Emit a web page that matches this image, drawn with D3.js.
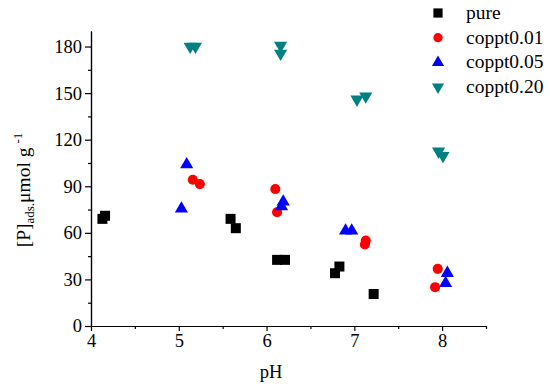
<!DOCTYPE html>
<html lang="en">
<head>
  <meta charset="UTF-8">
  <title>Adsorbed P vs pH</title>
  <style>
    body { margin: 0; background: #fff; }
    svg text { font-family: "Liberation Serif", "Times New Roman", serif; fill: #000; }
    .axis path, .axis line { stroke: #000; stroke-width: 1.2; fill: none; }
    .axis text { font-size: 18.5px; font-family: "Liberation Serif", serif; }
  </style>
</head>
<body>
  <div id="chart"></div>
  <script src="https://d3js.org/d3.v7.min.js"></script>
  <script>
    // Data
    const pureX = [4.13, 4.16, 5.59, 5.65, 6.12, 6.21, 6.78, 6.83, 7.22];
    const pureY = [69, 71, 69, 63, 42.6, 42.6, 34, 38.3, 20.6];
    const c001X = [5.16, 5.24, 6.10, 6.12, 7.13, 7.12, 7.95, 7.92];
    const c001Y = [94.2, 91.4, 88.2, 73.3, 55, 52.5, 36.8, 25];
    const c005X = [5.03, 5.09, 6.17, 6.19, 6.90, 6.97, 8.04, 8.06];
    const c005Y = [75.5, 104, 77, 80, 61.3, 61.3, 27.5, 34];
    const c020X = [5.13, 5.19, 6.16, 6.16, 7.03, 7.13, 7.96, 8.01];
    const c020Y = [180, 180, 180.6, 175.5, 146, 148, 112.5, 109.7];

    const seriesNames = ["pure", "coppt0.01", "coppt0.05", "coppt0.20"];
    const xTicks = [4, 5, 6, 7, 8];
    const yTicks = [0, 30, 60, 90, 120, 150, 180];

    const series = [
      { name: seriesNames[0], xs: pureX, ys: pureY, shape: d3.symbolSquare, size: 100, rot: 0, color: "#000000" },
      { name: seriesNames[1], xs: c001X, ys: c001Y, shape: d3.symbolCircle, size: 80, rot: 0, color: "#ff0000" },
      { name: seriesNames[2], xs: c005X, ys: c005Y, shape: d3.symbolTriangle, size: 75, rot: 0, color: "#0000ff" },
      { name: seriesNames[3], xs: c020X, ys: c020Y, shape: d3.symbolTriangle, size: 75, rot: 180, color: "#008080" }
    ];

    const W = 550, H = 384;
    const margin = { left: 91, right: 64, top: 31, bottom: 58 };

    const svg = d3.select("#chart").append("svg")
      .attr("width", W).attr("height", H);

    const x = d3.scaleLinear().domain([4, 8.5]).range([margin.left, W - margin.right]);
    const y = d3.scaleLinear().domain([0, 190]).range([H - margin.bottom, margin.top]);

    // minor ticks
    const xMinor = d3.range(4, 8.51, 0.5).filter(v => !xTicks.includes(v));
    const yMinor = d3.range(15, 190, 30);

    svg.append("g").attr("class", "axis")
      .attr("transform", `translate(0,${H - margin.bottom})`)
      .call(d3.axisBottom(x).tickValues(xMinor).tickSize(3).tickFormat("").tickSizeOuter(0));
    svg.append("g").attr("class", "axis")
      .attr("transform", `translate(0,${H - margin.bottom})`)
      .call(d3.axisBottom(x).tickValues(xTicks).tickSize(5).tickPadding(3).tickFormat(d3.format("d")).tickSizeOuter(0));

    svg.append("g").attr("class", "axis")
      .attr("transform", `translate(${margin.left},0)`)
      .call(d3.axisLeft(y).tickValues(yMinor).tickSize(3).tickFormat("").tickSizeOuter(0));
    svg.append("g").attr("class", "axis")
      .attr("transform", `translate(${margin.left},0)`)
      .call(d3.axisLeft(y).tickValues(yTicks).tickSize(6).tickPadding(3).tickFormat(d3.format("d")).tickSizeOuter(0));

    // points
    series.forEach(s => {
      const sym = d3.symbol().type(s.shape).size(s.size);
      svg.append("g").selectAll("path")
        .data(s.xs.map((v, i) => [v, s.ys[i]]))
        .join("path")
        .attr("d", sym)
        .attr("fill", s.color)
        .attr("transform", d => `translate(${x(d[0])},${y(d[1])}) rotate(${s.rot})`);
    });

    // legend
    const legend = svg.append("g").attr("transform", "translate(438,13)");
    series.forEach((s, i) => {
      const row = legend.append("g").attr("transform", `translate(0,${i * 24.7})`);
      row.append("path")
        .attr("d", d3.symbol().type(s.shape).size(s.size * 0.85))
        .attr("fill", s.color)
        .attr("transform", `rotate(${s.rot})`);
      row.append("text").attr("x", 28).attr("y", 6)
        .style("font-size", "19.5px").text(s.name);
    });

    // axis titles
    svg.append("text")
      .attr("x", x(6.05)).attr("y", 378)
      .attr("text-anchor", "middle")
      .style("font-size", "18.5px")
      .text("pH");

    const yt = svg.append("text")
      .attr("transform", "translate(30,190) rotate(-90)")
      .attr("text-anchor", "middle")
      .style("font-size", "19.5px");
    yt.append("tspan").text("[P]");
    yt.append("tspan").attr("dy", 4).style("font-size", "13px").text("ads.");
    yt.append("tspan").attr("dy", -4).text("\u03bcmol g");
    yt.append("tspan").attr("dy", -8).attr("dx", 4).style("font-size", "13px").text("-1");
  </script>
</body>
</html>
